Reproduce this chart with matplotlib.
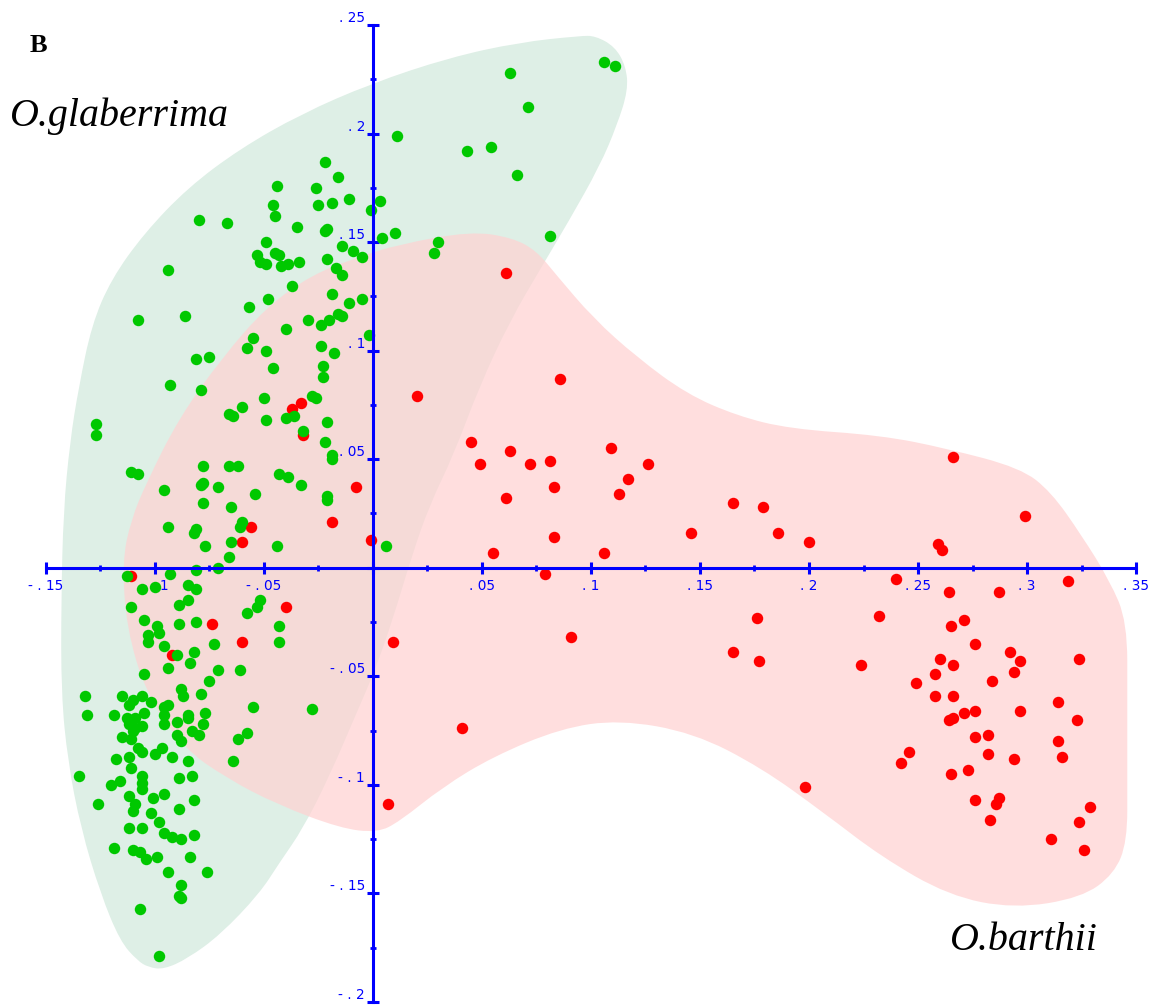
import numpy as np
import matplotlib
matplotlib.use("Agg")
import matplotlib.pyplot as plt
from matplotlib.path import Path
from matplotlib.patches import PathPatch
from matplotlib.ticker import FuncFormatter, MultipleLocator

# PCA scores, O. glaberrima accessions (axis 1, axis 2)
glab_x = [0.106, 0.111, 0.063, 0.071, 0.011, 0.043, 0.054, 0.066, 0.003, -0.001,
          0.004, 0.010, 0.030, 0.028, 0.081,
          -0.022, -0.016, -0.044, -0.026, -0.046, -0.025, -0.019, -0.011, -0.045, -0.080,
          -0.067, -0.035, -0.022, -0.021, -0.049, -0.014, -0.009, -0.005, -0.053, -0.052,
          -0.049, -0.045, -0.043, -0.042, -0.039, -0.034, -0.021, -0.017, -0.014, -0.094,
          -0.037, -0.019, -0.048, -0.011, -0.005, -0.057, -0.108, -0.086, -0.030, -0.024,
          -0.020, -0.016, -0.014, -0.040, -0.002, -0.055, -0.058, -0.049, -0.024, -0.018,
          -0.081, -0.075, -0.046, -0.023, -0.023, -0.093, -0.079, -0.028, -0.026, -0.050,
          -0.060, -0.066, -0.064, -0.040, -0.036, -0.049, -0.021, -0.127, -0.127, -0.032,
          -0.022, -0.019, -0.019, -0.078, -0.066, -0.062, -0.111, -0.108, -0.043, -0.039,
          -0.078, -0.079, -0.033, -0.096, -0.071, -0.054, -0.021, -0.021, -0.078, -0.065,
          -0.094, -0.081, -0.082, -0.060, -0.061, -0.065, -0.077, -0.044, -0.066, 0.006,
          -0.071, -0.081,
          -0.113, -0.093, -0.100, -0.106, -0.085, -0.081, -0.111, -0.089, -0.085, -0.052,
          -0.053, -0.058, -0.043, -0.043, -0.105, -0.099, -0.098, -0.089, -0.081, -0.103,
          -0.103, -0.096, -0.073, -0.090, -0.082, -0.094, -0.084, -0.071, -0.061, -0.075,
          -0.105, -0.088, -0.087, -0.079, -0.055, -0.028, -0.132, -0.131, -0.115, -0.112,
          -0.106, -0.110, -0.102, -0.096, -0.094, -0.096, -0.096, -0.119, -0.113, -0.112,
          -0.109, -0.106, -0.105, -0.109, -0.115, -0.111, -0.110, -0.090, -0.085, -0.085,
          -0.077, -0.078, -0.090, -0.088, -0.083, -0.080, -0.058, -0.062, -0.064, -0.108,
          -0.106, -0.100, -0.097, -0.092, -0.085, -0.118, -0.112, -0.111, -0.135, -0.106,
          -0.106, -0.106, -0.120, -0.116, -0.089, -0.083, -0.126, -0.112, -0.109, -0.110,
          -0.101, -0.096, -0.082, -0.089, -0.102, -0.098, -0.112, -0.106, -0.096, -0.092,
          -0.088, -0.082, -0.119, -0.110, -0.107, -0.104, -0.099, -0.084, -0.094, -0.076,
          -0.088, -0.089, -0.088, -0.107, -0.098]
glab_y = [0.233, 0.231, 0.228, 0.212, 0.199, 0.192, 0.194, 0.181, 0.169, 0.165,
          0.152, 0.154, 0.150, 0.145, 0.153,
          0.187, 0.180, 0.176, 0.175, 0.167, 0.167, 0.168, 0.170, 0.162, 0.160,
          0.159, 0.157, 0.155, 0.156, 0.150, 0.148, 0.146, 0.143, 0.144, 0.141,
          0.140, 0.145, 0.144, 0.139, 0.140, 0.141, 0.142, 0.138, 0.135, 0.137,
          0.130, 0.126, 0.124, 0.122, 0.124, 0.120, 0.114, 0.116, 0.114, 0.112,
          0.114, 0.117, 0.116, 0.110, 0.107, 0.106, 0.101, 0.100, 0.102, 0.099,
          0.096, 0.097, 0.092, 0.093, 0.088, 0.084, 0.082, 0.079, 0.078, 0.078,
          0.074, 0.071, 0.070, 0.069, 0.070, 0.068, 0.067, 0.066, 0.061, 0.063,
          0.058, 0.052, 0.050, 0.047, 0.047, 0.047, 0.044, 0.043, 0.043, 0.042,
          0.039, 0.038, 0.038, 0.036, 0.037, 0.034, 0.033, 0.031, 0.030, 0.028,
          0.019, 0.018, 0.016, 0.021, 0.019, 0.012, 0.010, 0.010, 0.005, 0.010,
          0.000, -0.001,
          -0.004, -0.003, -0.009, -0.010, -0.008, -0.010, -0.018, -0.017, -0.015, -0.015,
          -0.018, -0.021, -0.027, -0.034, -0.024, -0.027, -0.030, -0.026, -0.025, -0.031,
          -0.034, -0.036, -0.035, -0.040, -0.039, -0.046, -0.044, -0.047, -0.047, -0.052,
          -0.049, -0.056, -0.059, -0.058, -0.064, -0.065, -0.059, -0.068, -0.059, -0.063,
          -0.059, -0.061, -0.062, -0.064, -0.063, -0.068, -0.072, -0.068, -0.069, -0.072,
          -0.074, -0.073, -0.067, -0.069, -0.078, -0.079, -0.075, -0.071, -0.068, -0.069,
          -0.067, -0.072, -0.077, -0.080, -0.075, -0.077, -0.076, -0.079, -0.089, -0.083,
          -0.085, -0.086, -0.083, -0.087, -0.089, -0.088, -0.087, -0.092, -0.096, -0.096,
          -0.099, -0.102, -0.100, -0.098, -0.097, -0.096, -0.109, -0.105, -0.109, -0.112,
          -0.106, -0.104, -0.107, -0.111, -0.113, -0.117, -0.120, -0.120, -0.122, -0.124,
          -0.125, -0.123, -0.129, -0.130, -0.131, -0.134, -0.133, -0.133, -0.140, -0.140,
          -0.146, -0.151, -0.152, -0.157, -0.179]

# PCA scores, O. barthii accessions
bart_x = [0.061, 0.086, 0.020, 0.045, 0.049, 0.063, 0.072, 0.081, 0.109, 0.126,
          0.117, 0.113, 0.083, 0.061, 0.083, 0.055, 0.106, 0.079, 0.165, 0.179,
          0.146, 0.186, 0.200, 0.266, 0.299, 0.259, 0.261, 0.240, 0.264, 0.287,
          0.319, 0.232, 0.176, 0.265, 0.271, 0.276, 0.091, 0.009, 0.165, 0.177,
          0.224, 0.260, 0.266, 0.292, 0.297, 0.294, 0.324, 0.258, 0.249, 0.284,
          0.258, 0.266, 0.314, 0.264, 0.266, 0.271, 0.276, 0.297, 0.323, 0.282,
          0.276, 0.314, 0.282, 0.316, 0.294, 0.246, 0.242, 0.265, 0.273, 0.198,
          0.287, 0.276, 0.286, 0.329, 0.283, 0.324, 0.311, 0.326, 0.041, 0.007,
          -0.033, -0.037, -0.032, -0.008, -0.019, -0.056, -0.060, -0.001, -0.111, -0.040,
          -0.074, -0.060, -0.092]
bart_y = [0.136, 0.087, 0.079, 0.058, 0.048, 0.054, 0.048, 0.049, 0.055, 0.048,
          0.041, 0.034, 0.037, 0.032, 0.014, 0.007, 0.007, -0.003, 0.030, 0.028,
          0.016, 0.016, 0.012, 0.051, 0.024, 0.011, 0.008, -0.005, -0.011, -0.011,
          -0.006, -0.022, -0.023, -0.027, -0.024, -0.035, -0.032, -0.034, -0.039, -0.043,
          -0.045, -0.042, -0.045, -0.039, -0.043, -0.048, -0.042, -0.049, -0.053, -0.052,
          -0.059, -0.059, -0.062, -0.070, -0.069, -0.067, -0.066, -0.066, -0.070, -0.077,
          -0.078, -0.080, -0.086, -0.087, -0.088, -0.085, -0.090, -0.095, -0.093, -0.101,
          -0.106, -0.107, -0.109, -0.110, -0.116, -0.117, -0.125, -0.130, -0.074, -0.109,
          0.076, 0.073, 0.061, 0.037, 0.021, 0.019, 0.012, 0.013, -0.004, -0.018,
          -0.026, -0.034, -0.040]

# hand-drawn group outlines (axis units)
glab_hull_x = [0.102, 0.111, 0.116, 0.117, 0.112, 0.104, 0.090, 0.077, 0.063, 0.049,
               0.037, 0.026, 0.018, 0.009, 0.001, -0.008, -0.020, -0.032, -0.043, -0.052,
               -0.070, -0.085, -0.096, -0.103, -0.108, -0.116, -0.125, -0.134, -0.140, -0.143,
               -0.143, -0.142, -0.139, -0.135, -0.129, -0.120, -0.105, -0.085, -0.061, -0.033,
               -0.001, 0.035, 0.067, 0.095]
glab_hull_y = [0.245, 0.240, 0.231, 0.220, 0.204, 0.185, 0.160, 0.138, 0.114, 0.084,
               0.052, 0.029, 0.006, -0.024, -0.047, -0.068, -0.096, -0.120, -0.136, -0.150,
               -0.169, -0.180, -0.185, -0.184, -0.181, -0.172, -0.150, -0.120, -0.089, -0.058,
               -0.015, 0.026, 0.058, 0.083, 0.112, 0.133, 0.154, 0.175, 0.193, 0.209,
               0.223, 0.235, 0.242, 0.245]

bart_hull_x = [0.045, 0.064, 0.075, 0.084, 0.101, 0.121, 0.144, 0.167, 0.191, 0.233,
               0.263, 0.297, 0.311, 0.325, 0.338, 0.346, 0.346, 0.346, 0.346, 0.340,
               0.325, 0.294, 0.264, 0.233, 0.207, 0.178, 0.147, 0.113, 0.086, 0.055,
               0.032, 0.012, 0.002, -0.015, -0.044, -0.067, -0.087, -0.104, -0.113, -0.115,
               -0.111, -0.104, -0.089, -0.069, -0.049, -0.028, -0.007, 0.012]
bart_hull_y = [0.155, 0.152, 0.146, 0.135, 0.115, 0.097, 0.080, 0.070, 0.064, 0.061,
               0.055, 0.046, 0.035, 0.015, -0.006, -0.025, -0.061, -0.098, -0.126, -0.141,
               -0.152, -0.157, -0.151, -0.133, -0.113, -0.092, -0.076, -0.070, -0.074, -0.087,
               -0.101, -0.117, -0.122, -0.120, -0.109, -0.097, -0.083, -0.058, -0.028, 0.003,
               0.022, 0.039, 0.069, 0.097, 0.120, 0.135, 0.143, 0.149]


def smooth_outline(xs, ys):
    # closed quadratic-bezier curve through the midpoints of the outline
    pts = np.column_stack([xs, ys])
    mids = (pts + np.roll(pts, -1, axis=0)) / 2
    verts = [mids[-1]]
    codes = [Path.MOVETO]
    for p, m in zip(pts, mids):
        verts += [p, m]
        codes += [Path.CURVE3, Path.CURVE3]
    return Path(verts, codes)


def tick_fmt(v, pos):
    if abs(v) < 1e-9:
        return ""
    s = f"{abs(v):.2f}".rstrip("0").lstrip("0")
    out = ". " + s[1:]
    if v < 0:
        out = "- " + out
    return out


fig = plt.figure(figsize=(11.49, 10.05), dpi=100)
ax = fig.add_axes([0.0400, 0.00299, 0.9487, 0.97214])

ax.add_patch(PathPatch(smooth_outline(glab_hull_x, glab_hull_y),
                       facecolor="#deefe6", edgecolor="none", zorder=0.2))
ax.add_patch(PathPatch(smooth_outline(bart_hull_x, bart_hull_y),
                       facecolor=(1.0, 0.823, 0.823), alpha=0.72,
                       edgecolor="none", zorder=0.3))

ax.scatter(bart_x, bart_y, s=68, color="#ff0000", linewidths=0, zorder=2)
ax.scatter(glab_x, glab_y, s=68, color="#00c800", linewidths=0, zorder=2.1)

ax.set_xlim(-0.15, 0.35)
ax.set_ylim(-0.2, 0.25)

blue = "#0000ff"
for side in ["top", "right"]:
    ax.spines[side].set_visible(False)
for side in ["left", "bottom"]:
    ax.spines[side].set_position(("data", 0))
    ax.spines[side].set_color(blue)
    ax.spines[side].set_linewidth(2.2)
    ax.spines[side].set_zorder(3)

ax.xaxis.set_major_locator(MultipleLocator(0.05))
ax.xaxis.set_minor_locator(MultipleLocator(0.025))
ax.yaxis.set_major_locator(MultipleLocator(0.05))
ax.yaxis.set_minor_locator(MultipleLocator(0.025))
ax.xaxis.set_major_formatter(FuncFormatter(tick_fmt))
ax.yaxis.set_major_formatter(FuncFormatter(tick_fmt))

ax.tick_params(which="major", direction="inout", length=8.5, width=2.2,
               color=blue, labelcolor=blue, labelsize=9.8)
ax.tick_params(which="minor", direction="inout", length=4.5, width=2.0, color=blue)
ax.tick_params(axis="x", which="major", pad=4)
ax.tick_params(axis="y", which="major", pad=1.5)
ax.set_axisbelow(True)

fig.canvas.draw()
for lab in ax.get_yticklabels():
    lab.set_verticalalignment("bottom")

fig.text(30 / 1149, 1 - 52 / 1005, "B", family="Liberation Serif",
         fontweight="bold", fontsize=19, va="baseline")
fig.text(10 / 1149, 1 - 126 / 1005, "O.glaberrima", family="Liberation Serif",
         style="italic", fontsize=28.8, va="baseline")
fig.text(950 / 1149, 1 - 950 / 1005, "O.barthii", family="Liberation Serif",
         style="italic", fontsize=28.8, va="baseline")

fig.savefig("out.png", dpi=100)
